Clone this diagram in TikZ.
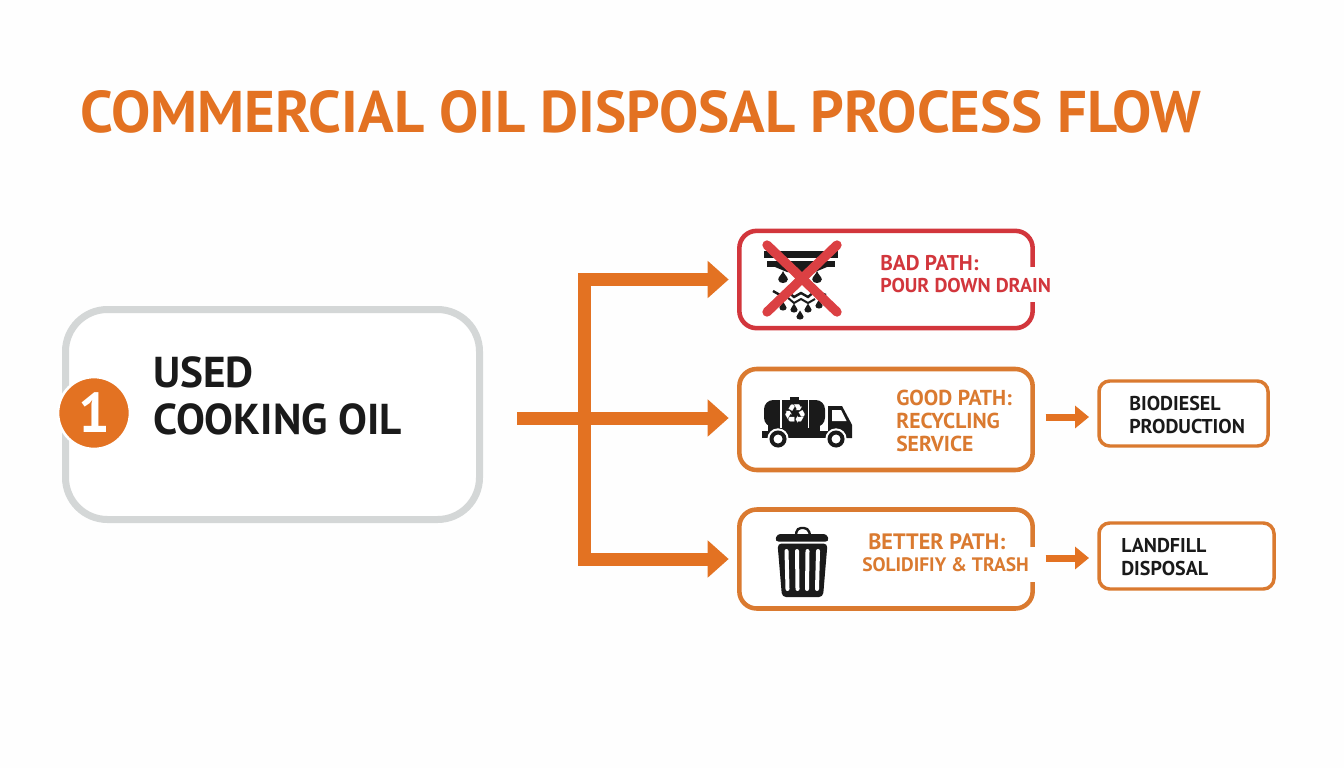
\documentclass[tikz,border=0pt]{standalone}
\usepackage{fontspec}
\setmainfont{PT Sans}
\newfontfamily\symbolfont{DejaVu Sans}
\usetikzlibrary{arrows.meta}
\definecolor{oilorange}{HTML}{E37222}
\definecolor{pathorange}{HTML}{DA7A30}
\definecolor{badred}{HTML}{D2363C}
\definecolor{crossred}{HTML}{DB4043}
\definecolor{softgray}{HTML}{D4D7D7}
\definecolor{inkblack}{HTML}{1A1A1A}
\newcommand{\oildrop}[3]{\fill[inkblack, shift={(#1,#2)}, scale=#3] (0,-5) .. controls (1,-2) and (4,0) .. (4,2) .. controls (4,6) and (-4,6) .. (-4,2) .. controls (-4,0) and (-1,-2) .. (0,-5);}
\tikzset{
  startbox/.style={draw=softgray, line width=5.25pt, rounded corners=31.5pt, fill=white, minimum width=310.5pt, minimum height=157.5pt, outer sep=0pt},
  pathbox/.style={draw=pathorange, line width=3.4pt, rounded corners=13pt, fill=white, minimum width=220pt, outer sep=0pt},
  endbox/.style={draw=pathorange, line width=2.6pt, rounded corners=8pt, fill=white, outer sep=0pt},
  badge/.style={circle, fill=oilorange, draw=white, line width=2pt, minimum size=54pt, inner sep=0pt, text=white, font=\bfseries\fontsize{42}{42}\selectfont},
  boxtext/.style={inner sep=0pt, anchor=west, align=left, font=\bfseries\fontsize{15}{16.7}\selectfont},
  flow/.style={draw=oilorange, line width=9.75pt, line join=miter, {Triangle[length=15.75pt,width=27pt]}-{Triangle[length=15.75pt,width=27pt]}, shorten <=8pt, shorten >=8pt},
  flowmid/.style={draw=oilorange, line width=9.75pt, -{Triangle[length=15.75pt,width=27pt]}, shorten >=8pt},
  flowout/.style={draw=oilorange, line width=5.25pt, -{Triangle[length=10.5pt,width=16.5pt]}, shorten <=9.75pt, shorten >=7.5pt}
}

\begin{document}
\begin{tikzpicture}[x=0.75pt, y=-0.75pt]
  \useasboundingbox (0,0) rectangle (1344,768);
  \fill[white!99!gray] (0,0) rectangle (1344,768);

  % title
  \node[inner sep=0pt, anchor=base west, text=oilorange, font=\bfseries\fontsize{44.1}{44}\selectfont] (title) at (80,132) {COMMERCIAL OIL DISPOSAL PROCESS FLOW};

  % boxes
  \node[startbox] (used) at (272.5,414.5) {};
  \node[pathbox, draw=badred, minimum height=73pt] (bad) at (886,279.5) {};
  \node[pathbox, minimum height=75.75pt] (good) at (886,419.5) {};
  \node[pathbox, minimum height=74.25pt] (better) at (886,559) {};
  \node[endbox, minimum width=126.75pt, minimum height=48.75pt] (biodiesel) at (1183.5,413.5) {};
  \node[endbox, minimum width=131.25pt, minimum height=49.5pt] (landfill) at (1186.5,556) {};

  % gaps in the borders
  \fill[white] (1030,267) rectangle (1040,302);
  \fill[white] (1030,547) rectangle (1040,582);

  % texts
  \node[badge] (one) at (94,413) {1};
  \node[boxtext, text=inkblack, font=\bfseries\fontsize{32.4}{35}\selectfont] (usedtext) at (153,396) {USED\\COOKING OIL};
  \node[boxtext, text=badred] (badtext) at (880,274) {{\fontsize{16}{16.7}\selectfont BAD PATH:}\\POUR DOWN DRAIN};
  \node[boxtext, text=pathorange, font=\bfseries\fontsize{16.2}{17.2}\selectfont] (goodtext) at (896,421) {GOOD PATH:\\RECYCLING\\SERVICE};
  \node[boxtext, text=pathorange, font=\bfseries\fontsize{14.6}{16.7}\selectfont] (bettertext) at (862,553) {\hspace{4.5pt}{\fontsize{16.7}{16.7}\selectfont BETTER PATH:}\\SOLIDIFIY \& TRASH};
  \node[boxtext, text=inkblack] (biotext) at (1129,415) {BIODIESEL\\PRODUCTION};
  \node[boxtext, text=inkblack] (landtext) at (1121,557) {LANDFILL\\DISPOSAL};

  % connectors
  \coordinate (topcorner) at (584.5,279.5);
  \coordinate (lowcorner) at (584.5,559);
  \coordinate (feed) at (517,418);
  \coordinate (biorow) at (0,417);
  \coordinate (landrow) at (0,558);
  \draw[flow] (bad.west) -- (topcorner) -- (lowcorner) -- (better.west);
  \draw[flowmid] (feed) -- (good.west |- feed);
  \draw[flowout] (good.east |- biorow) -- (biodiesel.west |- biorow);
  \draw[flowout] (better.east |- landrow) -- (landfill.west |- landrow);

  % drain icon
  \fill[inkblack] (764,251) rectangle (838,258);
  \fill[inkblack] (767,261) rectangle (835,267);
  \fill[inkblack] (775,267) -- (827,267) -- (815,272) -- (787,272) -- cycle;
  \oildrop{783}{277}{1.2}
  \oildrop{817}{277}{1.2}
  \oildrop{800}{276}{1.2}
  \oildrop{783}{306}{0.9}
  \oildrop{794}{308}{0.9}
  \oildrop{808}{308}{0.9}
  \oildrop{800}{315}{0.9}
  \oildrop{819}{304}{0.9}
  \draw[inkblack, line width=1.8pt] (773,291) -- (780,295) -- (787,291) -- (794,297) -- (801,293) -- (808,297) -- (815,291) -- (826,295);
  \draw[inkblack, line width=1.5pt] (780,301) -- (787,297) -- (794,303) -- (801,299) -- (808,303) -- (815,299);
  \draw[crossred, line width=7pt, line cap=round] (767,245) -- (837,312);
  \draw[crossred, line width=7pt, line cap=round] (837,245) -- (767,312);

  % truck icon
  \fill[inkblack] (790,396.5) rectangle (799,401);
  \fill[inkblack, rounded corners=7pt] (764,400) rectangle (825,427);
  \fill[inkblack] (762,431) rectangle (852,438);
  \fill[inkblack] (768,425) rectangle (820,432);
  \fill[inkblack] (828,406) -- (842,406) -- (850,421) -- (852,425) -- (852,438) -- (828,438) -- cycle;
  \fill[white] (832,410) -- (841,410) -- (846.5,421) -- (832,421) -- cycle;
  \draw[white, line width=1.1pt] (781,399) -- (781,428);
  \draw[white, line width=1.1pt] (808.5,399) -- (808.5,428);
  \node[inner sep=0pt, text=white, font=\symbolfont\fontsize{20}{20}\selectfont] (recycle) at (795,414) {♻};
  \filldraw[fill=white, draw=white, line width=1pt] (778,439) circle (10);
  \filldraw[fill=white, draw=white, line width=1pt] (836,439) circle (10);
  \draw[inkblack, line width=3pt] (778,439) circle (6.5);
  \draw[inkblack, line width=3pt] (836,439) circle (6.5);

  % trash icon
  \draw[inkblack, line width=1.8pt, rounded corners=3pt] (796,535) -- (797,528) -- (808,528) -- (810,535);
  \fill[inkblack, rounded corners=2.5pt] (775,541.5) -- (777,534) -- (827,534) -- (829,541.5) -- cycle;
  \fill[inkblack, rounded corners=3pt] (777.5,543.5) -- (827.5,543.5) -- (823,597) -- (782,597) -- cycle;
  \draw[white, line width=3pt, line cap=round] (786.5,551) -- (787.5,589);
  \draw[white, line width=3pt, line cap=round] (797,551) -- (797.5,589);
  \draw[white, line width=3pt, line cap=round] (807.5,551) -- (807,589);
  \draw[white, line width=3pt, line cap=round] (818,551) -- (817,589);
\end{tikzpicture}
\end{document}
